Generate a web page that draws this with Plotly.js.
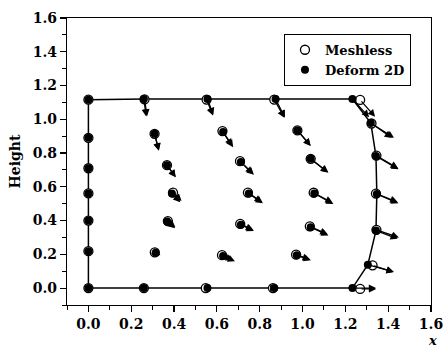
<!DOCTYPE html>
<html>
<head>
<meta charset="utf-8">
<script src="https://cdn.plot.ly/plotly-3.0.1.min.js"></script>
<style>html,body{margin:0;padding:0;background:#fff;}#chart{width:445px;height:349px;}</style>
</head>
<body>
<div id="chart"></div>
<script>
// Deform 2D nodes (boundary nodes 0-19 in order around the outline, then interior nodes)
const deformX = [0, 0, 0, 0, 0, 0, 0, 0.259, 0.556, 0.874, 1.233, 1.319, 1.343, 1.347, 1.343, 1.305, 1.233, 0.868, 0.556, 0.259,
                 0.309, 0.367, 0.390, 0.368, 0.314,
                 0.629, 0.712, 0.749, 0.712, 0.629,
                 0.976, 1.038, 1.055, 1.038, 0.973];
const deformY = [0, 0.219, 0.400, 0.561, 0.710, 0.890, 1.116, 1.120, 1.120, 1.120, 1.120, 0.978, 0.782, 0.557, 0.341, 0.139, 0, 0, 0, 0,
                 0.914, 0.728, 0.561, 0.394, 0.210,
                 0.925, 0.747, 0.561, 0.375, 0.190,
                 0.934, 0.766, 0.561, 0.361, 0.194];
// Deform 2D displacement vectors
const deformU = [0, 0, 0, 0, 0, 0, 0, 0.011, 0.027, 0.044, 0.078, 0.098, 0.106, 0.101, 0.101, 0.120, 0.110, 0.020, 0.010, 0,
                 0.020, 0.041, 0.039, 0.037, 0.022,
                 0.047, 0.061, 0.066, 0.061, 0.055,
                 0.062, 0.083, 0.089, 0.083, 0.066];
const deformV = [0, 0, 0, 0, 0, 0, 0, -0.104, -0.094, -0.110, -0.108, -0.088, -0.078, -0.055, -0.049, -0.043, 0, 0, 0, 0,
                 -0.098, -0.072, -0.053, -0.039, -0.016,
                 -0.090, -0.076, -0.059, -0.037, -0.031,
                 -0.092, -0.082, -0.063, -0.049, -0.029];

// Meshless nodes
const meshX = [0, 0, 0, 0, 0, 0, 0, 0.262, 0.552, 0.868, 1.269, 1.322, 1.345, 1.343, 1.345, 1.327, 1.269, 0.862, 0.548, 0.259,
               0.309, 0.367, 0.395, 0.371, 0.310,
               0.626, 0.708, 0.745, 0.709, 0.624,
               0.976, 1.038, 1.052, 1.034, 0.970];
const meshY = [0, 0.219, 0.400, 0.561, 0.710, 0.890, 1.116, 1.118, 1.117, 1.117, 1.115, 0.975, 0.785, 0.560, 0.345, 0.135, -0.005, 0, 0, 0,
               0.914, 0.728, 0.566, 0.397, 0.212,
               0.930, 0.752, 0.566, 0.380, 0.195,
               0.934, 0.766, 0.565, 0.366, 0.198];
const meshU = [0, 0, 0, 0, 0, 0, 0, 0.012, 0.030, 0.047, 0.070, 0.105, 0.100, 0.100, 0.105, 0.100, 0.075, 0.020, 0.010, 0,
               0.020, 0.040, 0.040, 0.035, 0.020,
               0.045, 0.060, 0.065, 0.060, 0.050,
               0.062, 0.080, 0.088, 0.082, 0.064];
const meshV = [0, 0, 0, 0, 0, 0, 0, -0.100, -0.095, -0.108, -0.100, -0.085, -0.075, -0.050, -0.045, -0.040, 0, 0, 0, 0,
               -0.100, -0.070, -0.050, -0.035, -0.015,
               -0.088, -0.075, -0.057, -0.035, -0.030,
               -0.090, -0.080, -0.060, -0.046, -0.028];

const boundaryCount = 20;
const seriesNames = ['Meshless', 'Deform 2D'];
const xTickVals = [0, 0.2, 0.4, 0.6, 0.8, 1.0, 1.2, 1.4, 1.6];
const xTickText = ['0.0', '0.2', '0.4', '0.6', '0.8', '1.0', '1.2', '1.4', '1.6'];
const yTickVals = [0, 0.2, 0.4, 0.6, 0.8, 1.0, 1.2, 1.4, 1.6];
const yTickText = ['0.0', '0.2', '0.4', '0.6', '0.8', '1.0', '1.2', '1.4', '1.6'];

const FONT = 'DejaVu Serif';

// Outline through the Deform 2D boundary nodes
const outlineX = deformX.slice(0, boundaryCount).concat([deformX[0]]);
const outlineY = deformY.slice(0, boundaryCount).concat([deformY[0]]);

const traces = [
  {x: outlineX, y: outlineY, mode: 'lines', line: {color: '#000', width: 1.5}, showlegend: false, hoverinfo: 'skip'},
  {x: meshX, y: meshY, mode: 'markers', name: seriesNames[0],
   marker: {symbol: 'circle', size: 9, color: '#fff', line: {color: '#000', width: 1.3}}},
  {x: deformX, y: deformY, mode: 'markers', name: seriesNames[1],
   marker: {symbol: 'circle', size: 8, color: '#000', line: {color: '#000', width: 0}}}
];

const annotations = [];
function addArrows(xs, ys, us, vs) {
  for (let i = 0; i < xs.length; i++) {
    if (us[i] === 0 && vs[i] === 0) continue;
    annotations.push({
      x: xs[i] + us[i], y: ys[i] + vs[i], ax: xs[i], ay: ys[i],
      xref: 'x', yref: 'y', axref: 'x', ayref: 'y',
      text: '', showarrow: true, arrowhead: 2, arrowsize: 1.1, arrowwidth: 1.3,
      arrowcolor: '#000', standoff: 0, startstandoff: 0
    });
  }
}
addArrows(meshX, meshY, meshU, meshV);
addArrows(deformX, deformY, deformU, deformV);

annotations.push({
  xref: 'paper', yref: 'paper', x: 1.003, y: -0.125, xanchor: 'center', yanchor: 'middle',
  text: 'x', showarrow: false,
  font: {family: FONT, size: 13, color: '#000', style: 'italic', weight: 'bold'}
});

const axisCommon = {
  showgrid: false, zeroline: false, showline: true, mirror: true,
  linecolor: '#000', linewidth: 1.2,
  ticks: 'outside', ticklen: 6, tickwidth: 1.2, tickcolor: '#000',
  tickfont: {family: FONT, size: 14, color: '#000', weight: 'bold'},
  minor: {dtick: 0.1, ticks: 'outside', ticklen: 4, tickwidth: 1, tickcolor: '#000'}
};

const layout = {
  width: 445, height: 349,
  margin: {l: 67, r: 14, t: 18, b: 44},
  paper_bgcolor: '#fff', plot_bgcolor: '#fff',
  font: {family: FONT, color: '#000'},
  xaxis: Object.assign({}, axisCommon, {
    range: [-0.1, 1.6], tickmode: 'array', tickvals: xTickVals, ticktext: xTickText
  }),
  yaxis: Object.assign({}, axisCommon, {
    range: [-0.1, 1.6], tickmode: 'array', tickvals: yTickVals, ticktext: yTickText,
    title: {text: 'Height', font: {family: FONT, size: 14, color: '#000', weight: 'bold'}, standoff: 8}
  }),
  legend: {
    x: 0.945, xanchor: 'right', y: 0.945, yanchor: 'top',
    bordercolor: '#000', borderwidth: 1, bgcolor: '#fff',
    font: {family: FONT, size: 13, color: '#000', weight: 'bold'},
    itemwidth: 30, tracegroupgap: 0
  },
  showlegend: true,
  annotations: annotations
};

Plotly.newPlot('chart', traces, layout, {displayModeBar: false, staticPlot: true});
</script>
</body>
</html>
